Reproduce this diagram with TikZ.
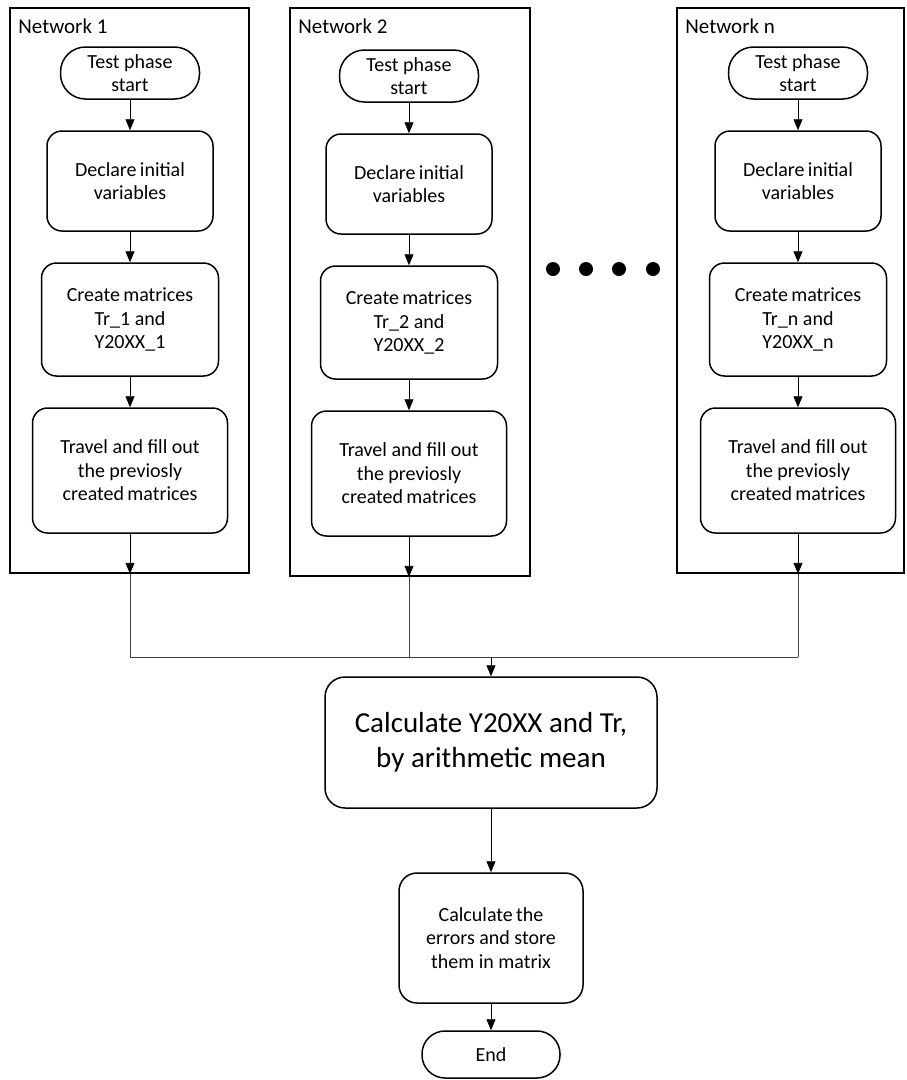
\documentclass[tikz,border=0pt]{standalone}
\usepackage{fontspec}
\setmainfont{Carlito}
\usetikzlibrary{arrows.meta}

\tikzset{
  box/.style={draw, line width=1.5pt, rounded corners=15pt, align=center,
    font=\fontsize{20}{23.5}\selectfont, inner sep=0pt},
  term/.style={box, rounded corners=25pt},
  netbox/.style={draw, line width=1.6pt, inner sep=0pt},
  arr/.style={-{Triangle[length=11pt,width=9pt]}, line width=0.9pt},
  busline/.style={line width=0.9pt, black!75}
}

\begin{document}
\begin{tikzpicture}[x=1pt,y=-1pt]
\useasboundingbox (0,0) rectangle (906,1080);
\coordinate (bus) at (491,657);
% one column per network
\foreach \net/\cx/\dy/\bx/\bw/\bh in {1/130/0/129.5/239/565, 2/409/3/410/240/568, n/798/0/790.5/227/565}{
  \node[netbox, minimum width=\bw pt, minimum height=\bh pt] (net\net) at (\bx,\bh/2+8) {};
  \node[anchor=base west, inner sep=0pt, font=\fontsize{21}{24}\selectfont] (lab\net)
    at ([xshift=9pt,yshift=-26pt]net\net.north west) {Network \net};
  \node[term, minimum width=139pt, minimum height=52pt] (start\net) at (\cx,73+\dy) {Test phase\\start};
  \node[box, minimum width=166pt, minimum height=100pt] (decl\net) at (\cx,181+\dy) {Declare\,initial\\variables};
  \node[box, minimum width=177pt, minimum height=113pt] (crt\net) at (\cx,319.5+\dy) {Create\,matrices\\Tr\_\net{} and\\Y20XX\_\net};
  \node[box, minimum width=195pt, minimum height=125pt] (trv\net) at (\cx,470.5+\dy) {Travel and fill out\\the previosly\\created\,matrices};
  \draw[arr] (start\net) -- (decl\net);
  \draw[arr] (decl\net) -- (crt\net);
  \draw[arr] (crt\net) -- (trv\net);
  \draw[arr] (trv\net) -- (trv\net |- net\net.south);
  \draw[busline] (trv\net |- net\net.south) -- (trv\net |- bus);
}
\foreach \x in {553,586,619,653} \fill (\x,269) circle (7pt);
\draw[busline] (trv1 |- bus) -- (trvn |- bus);

\node[box, rounded corners=20pt, minimum width=332pt, minimum height=131pt,
  font=\fontsize{29}{35}\selectfont] (mean) at (491,742.5) {Calculate Y20XX and Tr,\\by arithmetic mean};
\node[box, rounded corners=18pt, minimum width=184pt, minimum height=130pt] (err) at (491,938)
  {Calculate\,the\\errors and store\\them in matrix};
\node[term, rounded corners=23pt, minimum width=138pt, minimum height=47pt] (end) at (491,1054.5) {End};
\draw[arr] (bus) -- (mean);
\draw[arr] (mean) -- (err);
\draw[arr] (err) -- (end);
\end{tikzpicture}
\end{document}
